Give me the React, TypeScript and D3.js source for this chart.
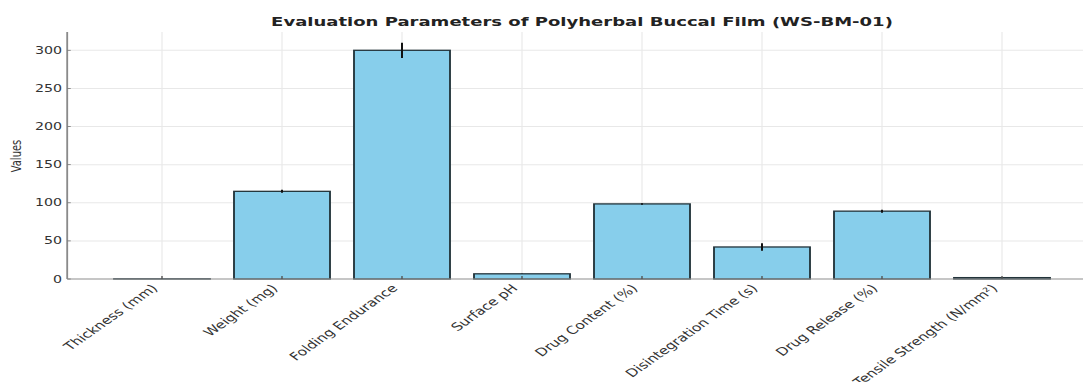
import React from "react";
import * as d3 from "d3";

const categories = [
  "Thickness (mm)",
  "Weight (mg)",
  "Folding Endurance",
  "Surface pH",
  "Drug Content (%)",
  "Disintegration Time (s)",
  "Drug Release (%)",
  "Tensile Strength (N/mm²)",
];
const values = [0.25, 115, 300, 6.8, 98.5, 42, 89, 1.8];
const errors = [0.02, 2, 10, 0.2, 1, 5, 2, 0.1];
const yTicks = [0, 50, 100, 150, 200, 250, 300];
const title = "Evaluation Parameters of Polyherbal Buccal Film (WS-BM-01)";
const yLabel = "Values";

const W = 1083;
const H = 382;
const S = 1.42; // horizontal stretch of the reference picture

export default function App() {
  const x = d3
    .scaleBand<string>()
    .domain(categories)
    .range([67.2 / S, 1096.8 / S])
    .paddingInner(0.2)
    .paddingOuter(0.39);
  const y = d3.scaleLinear().domain([0, 324]).range([279, 32]);
  const [x0, x1] = x.range();
  const bw = x.bandwidth();
  const cx = (c: string) => (x(c) as number) + bw / 2;
  const font = "DejaVu Sans, sans-serif";

  return (
    <svg
      width={W}
      height={H}
      style={{ position: "absolute", left: 0, top: 0, background: "#fff" }}
    >
      <rect x={0} y={0} width={W} height={H} fill="#fff" />
      <g transform={`scale(${S},1)`}>
        {/* grid */}
        {yTicks.map((t) => (
          <line
            key={"gy" + t}
            x1={x0}
            x2={x1}
            y1={y(t)}
            y2={y(t)}
            stroke="#e8e8e8"
            strokeWidth={1}
          />
        ))}
        {categories.map((c) => (
          <line
            key={"gx" + c}
            x1={cx(c)}
            x2={cx(c)}
            y1={y(324)}
            y2={y(0)}
            stroke="#e8e8e8"
            strokeWidth={0.8}
          />
        ))}
        {/* bars */}
        {categories.map((c, i) => (
          <rect
            key={"b" + c}
            x={x(c)}
            y={y(values[i])}
            width={bw}
            height={y(0) - y(values[i])}
            fill="#87CEEB"
            stroke="#22333a"
            strokeWidth={1.3}
          />
        ))}
        {/* error bars */}
        {categories.map((c, i) => (
          <line
            key={"e" + c}
            x1={cx(c)}
            x2={cx(c)}
            y1={y(values[i] + errors[i])}
            y2={y(Math.max(0, values[i] - errors[i]))}
            stroke="#111"
            strokeWidth={1.4}
          />
        ))}
        {/* spines */}
        <line x1={x0} x2={x0} y1={y(324)} y2={y(0)} stroke="#8a8a8a" strokeWidth={1.3} />
        <line x1={x0} x2={x1} y1={y(0)} y2={y(0)} stroke="#9a9a9a" strokeWidth={1.2} />
        {/* ticks */}
        {yTicks.map((t) => (
          <line
            key={"ty" + t}
            x1={x0}
            x2={x0 + 2.5}
            y1={y(t)}
            y2={y(t)}
            stroke="#777"
            strokeWidth={0.8}
          />
        ))}
        {categories.map((c) => (
          <line
            key={"tx" + c}
            x1={cx(c)}
            x2={cx(c)}
            y1={y(0)}
            y2={y(0) - 3}
            stroke="#555"
            strokeWidth={1}
          />
        ))}
        {/* y tick labels */}
        {yTicks.map((t) => (
          <text
            key={"ly" + t}
            x={62 / S}
            y={y(t) + 3.6}
            textAnchor="end"
            fontFamily={font}
            fontSize={10}
            fill="#333"
          >
            {t}
          </text>
        ))}
        {/* x tick labels */}
        {categories.map((c) => (
          <text
            key={"lx" + c}
            transform={`translate(${cx(c) - 2.5},${289}) rotate(-45)`}
            textAnchor="end"
            fontFamily={font}
            fontSize={11}
            fill="#333"
          >
            {c}
          </text>
        ))}
        {/* y label */}
        <text
          transform={`translate(${21 / S},${156}) rotate(-90)`}
          textAnchor="middle"
          fontFamily={font}
          fontSize={10}
          fill="#333"
        >
          {yLabel}
        </text>
        {/* title */}
        <text
          x={582 / S}
          y={26}
          textAnchor="middle"
          fontFamily={font}
          fontWeight="bold"
          fontSize={12.7}
          fill="#222"
        >
          {title}
        </text>
      </g>
    </svg>
  );
}
